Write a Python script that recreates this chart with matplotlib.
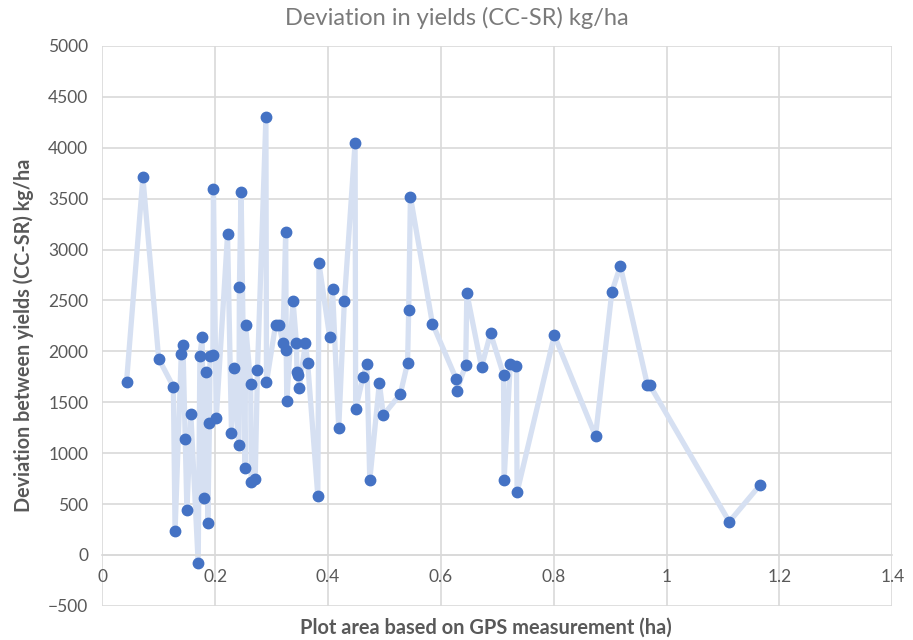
import matplotlib.pyplot as plt

# plot area (ha) and yield deviation (kg/ha), in data order
plot_area = [0.043, 0.072, 0.100, 0.126, 0.129, 0.140, 0.143, 0.147, 0.150, 0.157,
             0.170, 0.173, 0.177, 0.180, 0.184, 0.187, 0.190, 0.191, 0.196, 0.197,
             0.202, 0.222, 0.229, 0.233, 0.242, 0.243, 0.246, 0.253, 0.254, 0.263,
             0.264, 0.271, 0.275, 0.290, 0.291, 0.307, 0.313, 0.320, 0.325, 0.326,
             0.327, 0.338, 0.344, 0.345, 0.347, 0.349, 0.360, 0.364, 0.382, 0.384,
             0.403, 0.408, 0.419, 0.429, 0.448, 0.449, 0.462, 0.469, 0.474, 0.491,
             0.498, 0.528, 0.541, 0.543, 0.546, 0.585, 0.627, 0.628, 0.644, 0.646,
             0.672, 0.688, 0.711, 0.712, 0.723, 0.734, 0.735, 0.801, 0.874, 0.903,
             0.918, 0.966, 0.970, 1.111, 1.166]
yield_dev = [1698, 3709, 1927, 1652, 232, 1973, 2062, 1141, 438, 1381,
             -83, 1957, 2140, 562, 1794, 316, 1299, 1957, 1964, 3594,
             1345, 3149, 1197, 1833, 1080, 2632, 3568, 851, 2255, 1679,
             719, 746, 1813, 4301, 1695, 2258, 2258, 2086, 3169, 2008,
             1509, 2499, 2086, 1797, 1767, 1644, 2080, 1883, 576, 2864,
             2140, 2612, 1244, 2494, 4049, 1433, 1745, 1880, 733, 1689,
             1374, 1578, 1885, 2406, 3519, 2273, 1731, 1610, 1868, 2573,
             1846, 2177, 1770, 733, 1878, 1859, 615, 2157, 1168, 2585,
             2838, 1669, 1669, 326, 690]

x_ticks = [0, 0.2, 0.4, 0.6, 0.8, 1, 1.2, 1.4]
x_labels = ['0', '0.2', '0.4', '0.6', '0.8', '1', '1.2', '1.4']
y_ticks = list(range(-500, 5001, 500))

plt.rcParams['font.family'] = ['Lato', 'DejaVu Sans']
grid_c = '#d9d9d9'
text_c = '#595959'

fig = plt.figure(figsize=(9.13, 6.4), dpi=100)
ax = fig.add_axes([0.112, 0.0534, 0.8654, 0.8749])

ax.plot(plot_area, yield_dev, color='#d6e0f2', lw=3.8, zorder=2,
        solid_joinstyle='round', solid_capstyle='round')
ax.plot(plot_area, yield_dev, 'o', color='#4472c4', ms=7.5, zorder=3)

ax.set_xlim(0, 1.4)
ax.set_ylim(-500, 5000)
ax.set_xticks(x_ticks)
ax.set_xticklabels(x_labels)
ax.set_yticks(y_ticks)
ax.grid(True, color=grid_c, lw=1.2, zorder=0)
ax.set_axisbelow(True)

for s in ['top', 'right', 'left']:
    ax.spines[s].set_visible(False)
ax.spines['bottom'].set_position(('data', 0))
ax.spines['bottom'].set_color(grid_c)
ax.spines['bottom'].set_linewidth(1.2)
ax.tick_params(axis='both', length=0, labelsize=12.5, labelcolor=text_c)
ax.tick_params(axis='x', pad=10)
ax.tick_params(axis='y', pad=10)

fig.text(0.5, 0.972, 'Deviation in yields (CC-SR) kg/ha', ha='center', va='center',
         fontsize=17, color='#7a7a7a')
fig.text(0.532, 0.019, 'Plot area based on GPS measurement (ha)', ha='center', va='center',
         fontsize=14.4, fontweight='bold', color=text_c)
fig.text(0.0255, 0.476, 'Deviation between yields (CC-SR) kg/ha', ha='center', va='center',
         rotation=90, fontsize=14.2, fontweight='bold', color=text_c)

fig.savefig('out.png', dpi=100)
